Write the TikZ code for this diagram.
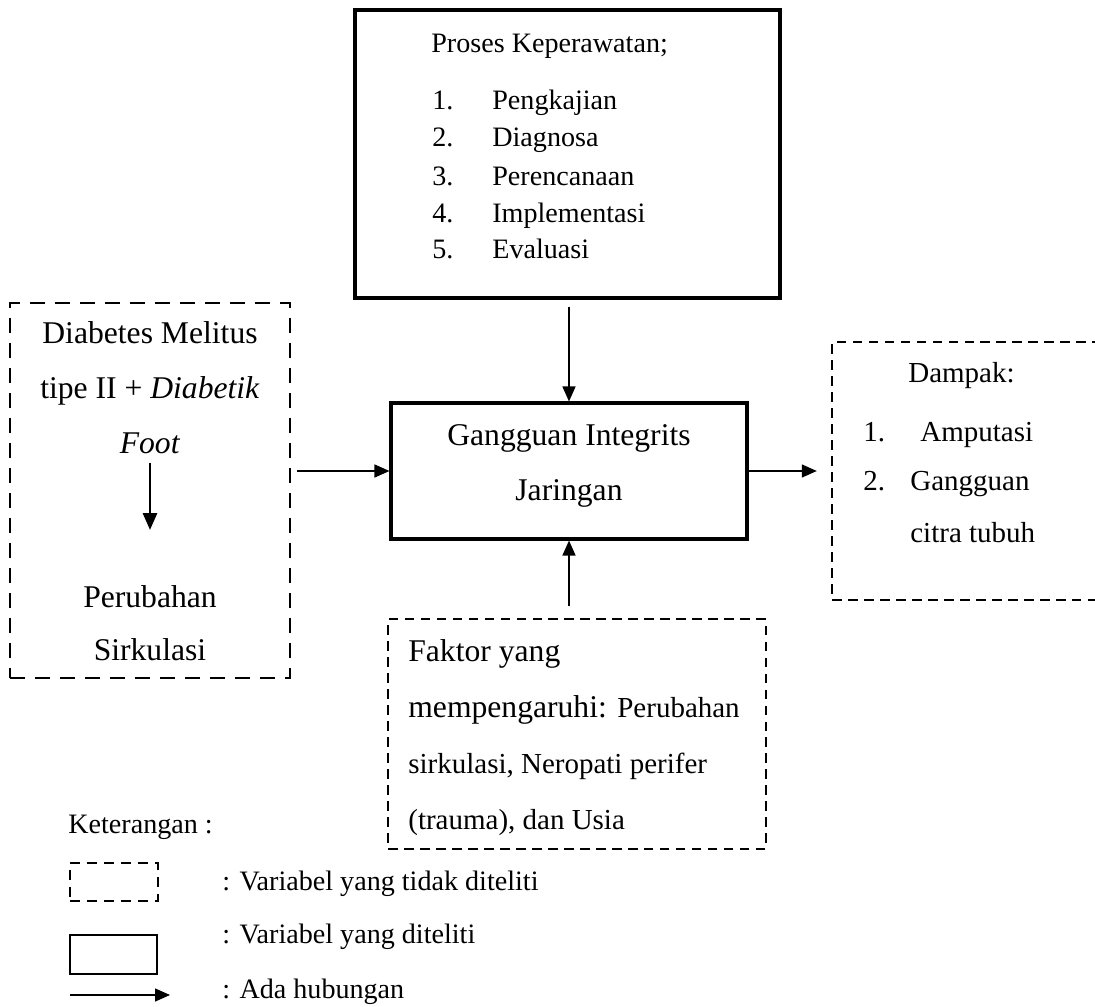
\documentclass[tikz,border=0pt]{standalone}
\usepackage{fontspec}
\setmainfont{Liberation Serif}
\usetikzlibrary{arrows.meta,positioning}
\tikzset{
  diteliti/.style={draw,line width=1.8pt,inner sep=0pt},
  tdkditeliti/.style={draw,line width=1.4pt,dash pattern=on 0.19cm off 0.13cm,inner sep=0pt},
  tdkpanjang/.style={tdkditeliti,line width=1.5pt,dash pattern=on 0.3cm off 0.2cm},
  panah/.style={-{Triangle[length=0.3cm,width=0.26cm]},line width=0.8pt},
  panahtebal/.style={-{Triangle[length=0.34cm,width=0.28cm]},line width=1.7pt},
  teks/.style={anchor=base west,inner sep=0pt,font=\fontsize{16}{19}\selectfont},
  tekssedang/.style={teks,font=\fontsize{16.5}{20}\selectfont},
  teksbesar/.style={anchor=base,inner sep=0pt,font=\fontsize{18}{22}\selectfont},
}

\begin{document}
\begin{tikzpicture}[x=0.02cm,y=-0.02cm]
  \useasboundingbox (0,0) rectangle (1095,1007);
  % kotak
  \node[diteliti,minimum width=8.5cm,minimum height=5.76cm] (proses) at (567.5,154) {};
  \node[diteliti,minimum width=7.12cm,minimum height=2.72cm] (gangguan) at (569,471) {};
  \node[tdkpanjang,minimum width=5.6cm,minimum height=7.5cm] (diabetes) at (150,490.5) {};
  \node[tdkditeliti,minimum width=5.56cm,minimum height=5.16cm] (dampak) at (971,471) {};
  \node[tdkditeliti,minimum width=7.56cm,minimum height=4.6cm] (faktor) at (577,734) {};

  % proses keperawatan
  \node[teks] (judul) at (431,53) {Proses Keperawatan;};
  \foreach \n/\t/\y in {1/Pengkajian/110,2/Diagnosa/147,3/Perencanaan/185,4/Implementasi/222,5/Evaluasi/258}{
    \node[teks] (no\n) at (432,\y) {\n.};
    \node[teks] (langkah\n) at (492,\y) {\t};}

  % masalah
  \node[teksbesar] (g1) at (569,445) {Gangguan Integrits};
  \node[teksbesar] (g2) at (569,500) {Jaringan};

  % diabetes melitus
  \foreach \t/\y [count=\i] in {Diabetes Melitus/343,tipe II + \textit{Diabetik}/398,\textit{Foot}/453,Perubahan/607,Sirkulasi/660}
    \node[teksbesar] (dm\i) at (150,\y) {\t};
  \coordinate (ujung) at (150,530);
  \draw[panahtebal,shorten <=0.18cm] (dm3.south) -- (ujung);

  % dampak
  \node[tekssedang] (dp) at (908,382) {Dampak:};
  \node[tekssedang] (dpno1) at (863,441) {1.};
  \node[tekssedang] (dp1) at (920,441) {Amputasi};
  \node[tekssedang] (dpno2) at (863,490) {2.};
  \node[tekssedang] (dp2) at (910,490) {Gangguan};
  \node[tekssedang] (dp3) at (910,542) {citra tubuh};

  % faktor
  \node[teks,font=\fontsize{18}{22}\selectfont] (f1) at (408,661) {Faktor yang};
  \node[teks,font=\fontsize{18}{22}\selectfont] (f2) at (408,717) {mempengaruhi: {\fontsize{16.5}{20}\selectfont Perubahan}};
  \node[tekssedang] (f3) at (408,773) {sirkulasi, Neropati perifer};
  \node[tekssedang] (f4) at (408,829) {(trauma), dan Usia};

  % hubungan
  \draw[panah,shorten <=0.14cm] (proses.south -| gangguan.north) -- (gangguan.north);
  \draw[panah,shorten <=0.12cm] (diabetes.east |- gangguan.west) -- (gangguan.west);
  \draw[panah,shorten >=0.28cm] (gangguan.east) -- (gangguan.east -| dampak.west);
  \draw[panah,shorten <=0.24cm] (faktor.north -| gangguan.south) -- (gangguan.south);

  % keterangan
  \node[teks] (ket) at (68,833) {Keterangan :};
  \node[tdkditeliti,line width=1.3pt,dash pattern=on 0.2cm off 0.14cm,minimum width=1.76cm,minimum height=0.76cm] (lg1) at (114,882) {};
  \node[teks] (lgt1) at (222,890) {: Variabel yang tidak diteliti};
  \node[diteliti,line width=1.3pt,minimum width=1.74cm,minimum height=0.78cm] (lg2) at (113.5,954.5) {};
  \node[teks] (lgt2) at (222,943) {: Variabel yang diteliti};
  \coordinate (lgawal) at (70,995);
  \coordinate (lgakhir) at (170,995);
  \draw[panah] (lgawal) -- (lgakhir);
  \node[teks] (lgt3) at (222,998) {: Ada hubungan};
\end{tikzpicture}
\end{document}
